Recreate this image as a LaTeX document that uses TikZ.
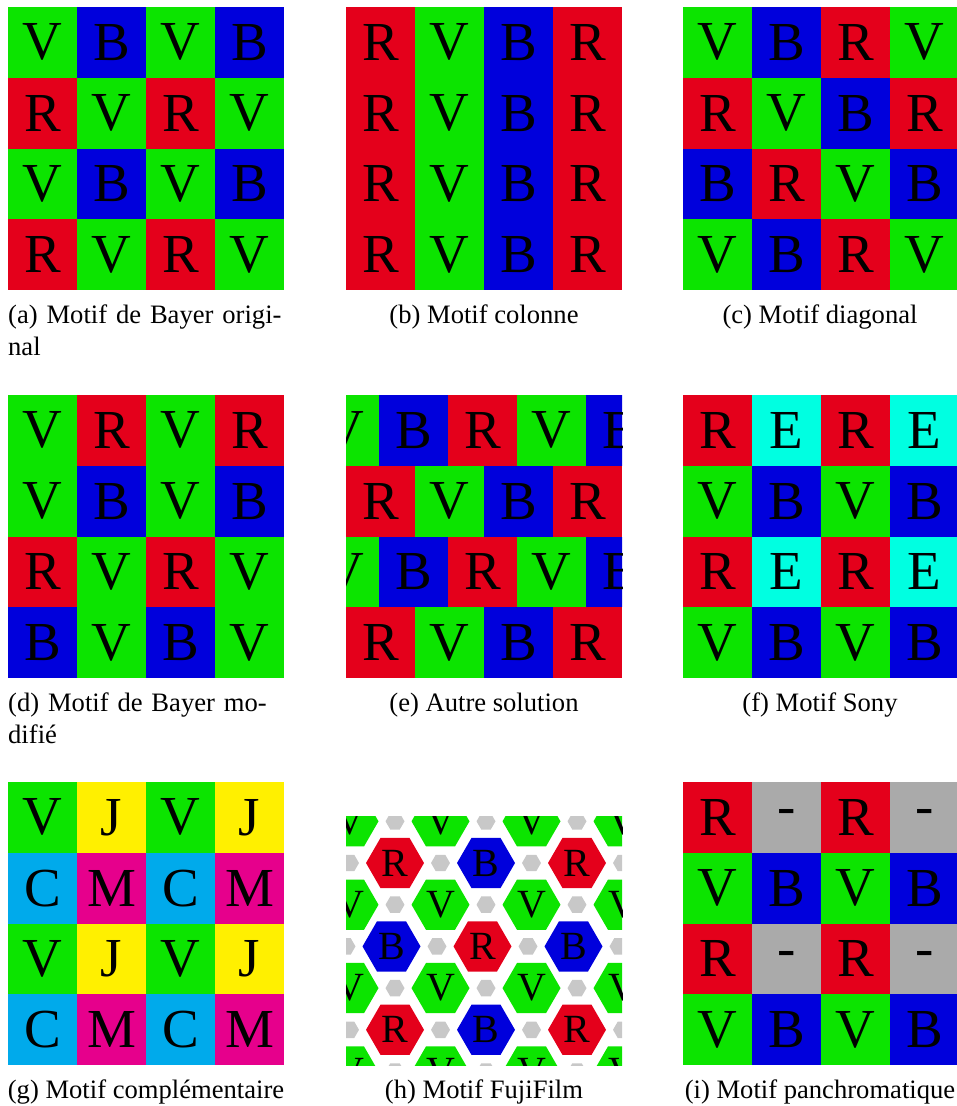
\documentclass[tikz,border=0pt]{standalone}
\usepackage{fontspec}
\setmainfont{Liberation Serif}
\usetikzlibrary{shapes.geometric}
\definecolor{colR}{RGB}{228,0,27}
\definecolor{colV}{RGB}{12,228,0}
\definecolor{colB}{RGB}{0,0,220}
\definecolor{colE}{RGB}{0,255,225}
\definecolor{colJ}{RGB}{255,240,0}
\definecolor{colC}{RGB}{0,170,235}
\definecolor{colM}{RGB}{230,0,140}
\definecolor{colP}{RGB}{170,170,170}
\definecolor{colH}{RGB}{200,200,200}
\tikzset{
  cell/.style     = {rectangle, inner sep=0pt, minimum width=69pt,
                     minimum height=70.75pt, font=\fontsize{55}{55}\selectfont},
  bighex/.style   = {regular polygon, regular polygon sides=6, inner sep=0pt,
                     minimum size=58pt, font=\fontsize{40}{40}\selectfont},
  smallhex/.style = {regular polygon, regular polygon sides=6, inner sep=0pt,
                     minimum size=19pt, fill=colH},
  legend/.style   = {font=\fontsize{26.6}{32}\selectfont, inner sep=0pt},
}

\begin{document}
\begin{tikzpicture}[x=1pt,y=-1pt]
\useasboundingbox (0,0) rectangle (957,1106);
% plain 4x4 patterns
\foreach \nm/\px/\py/\rows in {
    a/8/7/{{V,B,V,B},{R,V,R,V},{V,B,V,B},{R,V,R,V}},
    b/346/7/{{R,V,B,R},{R,V,B,R},{R,V,B,R},{R,V,B,R}},
    c/683/7/{{V,B,R,V},{R,V,B,R},{B,R,V,B},{V,B,R,V}},
    d/8/395/{{V,R,V,R},{V,B,V,B},{R,V,R,V},{B,V,B,V}},
    f/683/395/{{R,E,R,E},{V,B,V,B},{R,E,R,E},{V,B,V,B}},
    g/8/782/{{V,J,V,J},{C,M,C,M},{V,J,V,J},{C,M,C,M}},
    i/683/782/{{R,P,R,P},{V,B,V,B},{R,P,R,P},{V,B,V,B}}}
  \foreach \row [count=\j from 0] in \rows
    \foreach \lt [count=\i from 0] in \row
      \node[cell, fill=col\lt] (\nm-\i-\j) at (\px+34.5+\i*69, \py+35.375+\j*70.75)
        {\if\lt P-\else\lt\fi};
% shifted rows
\begin{scope}
\clip (346,395) rectangle (622,678);
\foreach \xs/\row [count=\j from 0] in
    {310/{V,B,R,V,B},346/{R,V,B,R},310/{V,B,R,V,B},346/{R,V,B,R}}
  \foreach \lt [count=\i from 0] in \row
    \node[cell, fill=col\lt] (e-\i-\j) at (\xs+34.5+\i*69, 430.375+\j*70.75) {\lt};
\end{scope}
% hexagons
\begin{scope}
\clip (346,816) rectangle (622,1065);
\foreach \j in {-1,...,5}
  \foreach \i in {-1,...,6} {
    \pgfmathtruncatemacro\odd{mod(\i+\j+10,2)}
    \pgfmathtruncatemacro\rb{mod((\i+\j)/2+10,2)}
    \pgfmathsetmacro\hx{395+45.5*\i-3.5*(\j==2)}
    \pgfmathsetmacro\hy{863+41.7*\j}
    \ifnum\odd=1
      \node[smallhex] (s\i\j) at (\hx,\hy) {};
    \else\ifodd\j
      \node[bighex, fill=colV] (h\i\j) at (\hx,\hy) {V};
    \else\ifnum\rb=0
      \node[bighex, fill=colR] (h\i\j) at (\hx,\hy) {R};
    \else
      \node[bighex, fill=colB] (h\i\j) at (\hx,\hy) {B};
    \fi\fi\fi
  }
\end{scope}
% captions
\node[legend, text width=277pt, align=left, anchor=base west] (cap-a) at (8,323)
  {\makebox[277pt][s]{(a) Motif de Bayer origi-}\\nal};
\node[legend, anchor=base] (cap-b) at (484,323) {(b) Motif colonne};
\node[legend, anchor=base] (cap-c) at (820,323) {(c) Motif diagonal};
\node[legend, text width=277pt, align=left, anchor=base west] (cap-d) at (8,711)
  {\makebox[277pt][s]{(d) Motif de Bayer mo-}\\difié};
\node[legend, anchor=base] (cap-e) at (484,711) {(e) Autre solution};
\node[legend, anchor=base] (cap-f) at (820,711) {(f) Motif Sony};
\node[legend, anchor=base] (cap-g) at (146,1098) {(g) Motif complémentaire};
\node[legend, anchor=base] (cap-h) at (484,1098) {(h) Motif FujiFilm};
\node[legend, anchor=base] (cap-i) at (820,1098) {(i) Motif panchromatique};
\end{tikzpicture}
\end{document}
